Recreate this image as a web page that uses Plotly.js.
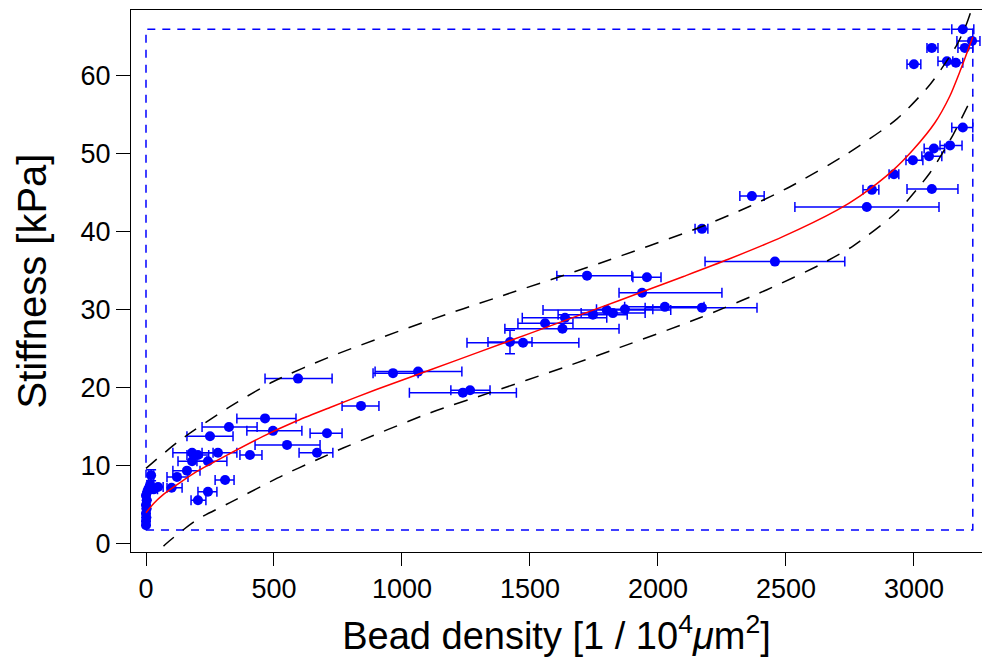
<!DOCTYPE html>
<html>
<head>
<meta charset="utf-8">
<script src="https://cdn.plot.ly/plotly-3.0.1.min.js"></script>
<style>html,body{margin:0;padding:0;background:#fff;}#chart{width:982px;height:659px;}</style>
</head>
<body>
<div id="chart"></div>
<script>
// Measured points: bead density (x), stiffness (y), x-error bounds, y error
const densX  = [0,0,1,0,2,0,3,0,5,10,16,20,30,47,100,121,160,180,180,203,242,281,250,324,465,496,309,242,203,406,551,707,668,594,840,965,1063,1238,1266,1422,1473,1627,1559,1637,1746,1800,1824,1871,2027,2172,1938,1957,1723,2172,2367,2457,2816,2836,2922,2996,3059,3078,3141,3191,3070,3000,3070,3129,3164,3191,3227,3199];
const stiffY = [2.4,2.9,3.4,3.9,4.5,5.0,5.6,6.2,6.7,7.1,7.6,8.8,7.0,7.3,7.2,8.6,9.4,10.6,11.7,11.4,10.6,11.7,13.8,15.0,16.1,14.5,8.2,6.7,5.6,11.4,12.7,14.2,11.7,21.2,17.7,21.9,22.1,19.4,19.7,25.9,25.8,27.6,28.3,29.0,29.4,30.0,29.6,30.1,30.4,30.3,32.2,34.2,34.4,40.4,44.6,36.2,43.2,45.4,47.4,49.2,49.7,50.7,51.1,53.4,45.5,61.5,63.6,61.9,61.7,66.0,64.5,63.6];
const densLo = [null,null,null,null,null,null,null,null,null,null,5,10,15,16,82,82,105,125,105,160,199,219,160,219,355,394,270,203,176,367,426,641,598,465,766,887,895,1029,1191,1336,1254,1402,1453,1470,1610,1551,1700,1760,1870,1950,1848,1902,1605,2145,2320,2184,2535,2801,2903,2969,3031,3040,3102,3148,2973,2973,3051,3094,3129,3148,3168,3172];
const densHi = [null,null,null,null,null,null,null,null,null,null,30,30,45,67,141,164,211,238,262,245,316,355,340,434,586,609,344,277,234,453,680,766,730,727,910,1063,1234,1447,1344,1508,1691,1848,1668,1800,1880,2050,1950,1980,2180,2387,2250,2012,1898,2195,2415,2730,3098,2863,2941,3035,3109,3120,3188,3230,3172,3027,3094,3152,3191,3234,3258,3230];
const stiffErr = [null,null,null,null,null,null,null,null,null,null,null,0.7,null,null,null,null,null,null,null,null,null,null,null,null,null,null,null,null,null,null,null,null,null,null,null,null,null,null,null,1.5,null,null,null,null,null,null,null,null,null,null,null,null,null,null,null,null,null,null,null,null,null,null,null,null,null,null,null,null,null,null,null,null];

// Fitted curve (red) and prediction band (black dashed)
const fitX = [0,30,66,130,199,328,457,590,719,900,1109,1300,1500,1773,1937,2100,2275,2488,2700,2789,2918,2996,3082,3140,3180,3230];
const fitY = [4.0,5.2,6.3,7.8,9.3,11.6,13.8,15.8,17.5,19.8,22.3,24.6,27.0,30.3,32.3,34.3,36.5,39.4,42.8,44.6,47.9,50.5,54.0,57.4,60.6,65.0];
const upperX = [0,133,328,496,719,1109,1371,1773,2164,2359,2516,2738,2934,3063,3168,3207,3230];
const upperY = [9.7,13.3,17.6,20.8,24.0,28.7,31.6,36.0,40.6,43.3,45.8,50.0,54.5,58.9,64.0,66.8,69.0];
const lowerX = [0,74,199,328,535,668,770,1109,1344,1629,1852,2164,2426,2633,2762,2934,3063,3152,3230];
const lowerY = [-2.6,-0.1,3.1,5.3,8.8,10.8,12.3,16.8,19.4,22.6,25.2,29.0,32.6,35.8,38.2,42.6,47.6,52.4,57.5];

// Data bounds box (blue dashed)
const boxX = [0,3230,3230,0,0];
const boxY = [1.8,1.8,66.0,66.0,1.8];

const errPlus = densX.map((x,i)=> densHi[i]==null ? null : densHi[i]-x);
const errMinus = densX.map((x,i)=> densLo[i]==null ? null : x-densLo[i]);

const blue = '#0000ff';
const traces = [
  {x: boxX, y: boxY, mode:'lines', line:{color:blue, width:1.5, dash:'8px,7px'}, hoverinfo:'skip'},
  {x: densX, y: stiffY, mode:'markers', marker:{color:blue, size:10},
   error_x:{type:'data', symmetric:false, array:errPlus, arrayminus:errMinus, color:blue, thickness:1.5, width:5},
   error_y:{type:'data', array:stiffErr, color:blue, thickness:1.5, width:5}},
  {x: upperX, y: upperY, mode:'lines', line:{color:'black', width:1.5, dash:'14px,11px', shape:'spline', smoothing:0.7}},
  {x: lowerX, y: lowerY, mode:'lines', line:{color:'black', width:1.5, dash:'14px,11px', shape:'spline', smoothing:0.7}},
  {x: fitX, y: fitY, mode:'lines', line:{color:'#ff0000', width:1.5, shape:'spline', smoothing:0.7}}
];

const font = 'Liberation Sans, Arial, Helvetica, sans-serif';
const layout = {
  width:982, height:659,
  margin:{l:131, r:0, t:10, b:107},
  showlegend:false,
  paper_bgcolor:'#fff', plot_bgcolor:'#fff',
  font:{family:font, color:'#000'},
  xaxis:{
    range:[-58.6,3266], tickvals:[0,500,1000,1500,2000,2500,3000],
    ticks:'outside', ticklen:13, tickwidth:1, tickcolor:'#000',
    showline:true, linecolor:'#000', linewidth:1, mirror:true,
    showgrid:false, zeroline:false,
    tickfont:{size:27, family:font, color:'#000'},
    title:{text:'Bead density [1 / 10<sup>4</sup><i>μ</i>m<sup>2</sup>]', font:{size:38, family:font, color:'#000'}, standoff:18}
  },
  yaxis:{
    range:[-1.03,68.46], tickvals:[0,10,20,30,40,50,60],
    ticks:'outside', ticklen:14, tickwidth:1, tickcolor:'#000',
    showline:true, linecolor:'#000', linewidth:1, mirror:false,
    showgrid:false, zeroline:false,
    tickfont:{size:27, family:font, color:'#000'},
    title:{text:'Stiffness [kPa]', font:{size:40, family:font, color:'#000'}, standoff:21}
  }
};
Plotly.newPlot('chart', traces, layout, {displayModeBar:false, staticPlot:true});
</script>
</body>
</html>
